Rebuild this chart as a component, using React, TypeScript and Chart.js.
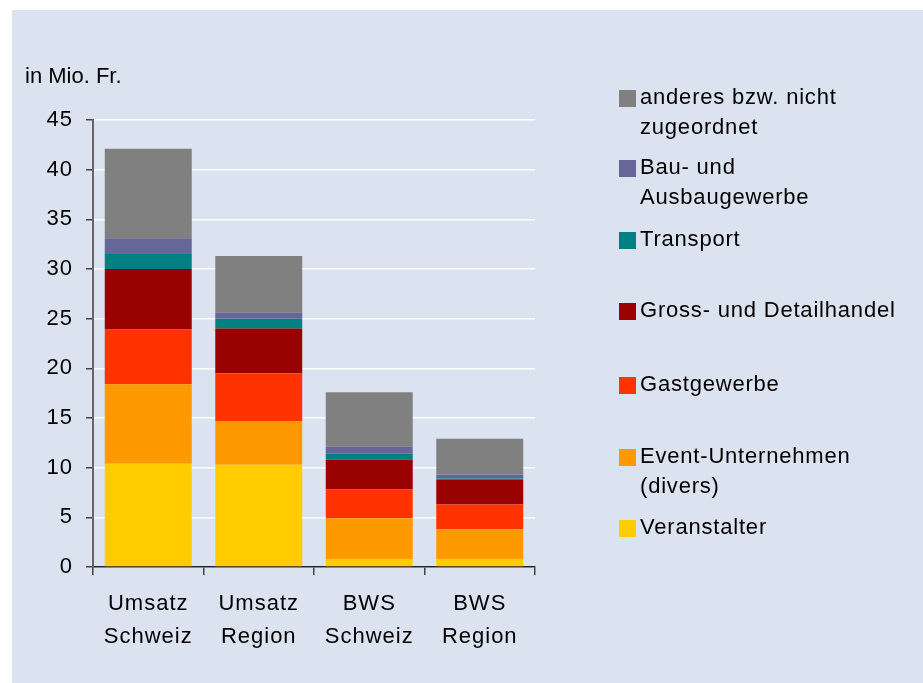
import React, { useEffect, useRef } from 'react';
import { Chart, registerables } from 'chart.js';

Chart.register(...registerables);

const categories = [
  ['Umsatz', 'Schweiz'],
  ['Umsatz', 'Region'],
  ['BWS', 'Schweiz'],
  ['BWS', 'Region'],
];

const seriesNames = [
  'Veranstalter',
  'Event-Unternehmen (divers)',
  'Gastgewerbe',
  'Gross- und Detailhandel',
  'Transport',
  'Bau- und Ausbaugewerbe',
  'anderes bzw. nicht zugeordnet',
];

const legendLines = [
  ['Veranstalter'],
  ['Event-Unternehmen', '(divers)'],
  ['Gastgewerbe'],
  ['Gross- und Detailhandel'],
  ['Transport'],
  ['Bau- und', 'Ausbaugewerbe'],
  ['anderes bzw. nicht', 'zugeordnet'],
];

const veranstalter = [10.4, 10.3, 0.8, 0.8];
const eventUnternehmen = [8.0, 4.4, 4.1, 3.0];
const gastgewerbe = [5.5, 4.8, 2.9, 2.5];
const grossDetailhandel = [6.1, 4.5, 3.0, 2.5];
const transport = [1.5, 1.0, 0.6, 0.1];
const bauAusbau = [1.6, 0.6, 0.7, 0.4];
const anderes = [9.0, 5.7, 5.5, 3.6];

const seriesValues = [veranstalter, eventUnternehmen, gastgewerbe, grossDetailhandel, transport, bauAusbau, anderes];
const seriesColors = ['#FFCC00', '#FF9900', '#FF3300', '#990000', '#008080', '#666699', '#808080'];

const yMin = 0;
const yMax = 45;
const yStep = 5;

const unitLabel = 'in Mio. Fr.';

// legend layout (top of each item, in the order of the series)
const legendTops = [512, 441, 369, 295, 224, 152, 82];

const FONT = '"Liberation Sans", Arial, sans-serif';

export default function App() {
  const canvasRef = useRef<HTMLCanvasElement | null>(null);

  useEffect(() => {
    const canvas = canvasRef.current;
    if (!canvas) return;
    const spacingPlugin = {
      id: 'spacing',
      beforeDraw(chart: any) {
        try { chart.ctx.letterSpacing = '1px'; } catch (e) {}
      },
    };
    const chart = new Chart(canvas, {
      type: 'bar',
      data: {
        labels: categories,
        datasets: seriesNames.map((name, i) => ({
          label: name,
          data: seriesValues[i],
          backgroundColor: seriesColors[i],
          borderWidth: 0,
          barPercentage: 1,
          categoryPercentage: 0.787,
        })),
      },
      options: {
        responsive: false,
        animation: false,
        layout: { padding: { left: 0, right: 388, top: 120, bottom: 0 } },
        plugins: { legend: { display: false }, tooltip: { enabled: false } },
        scales: {
          x: {
            stacked: true,
            grid: {
              offset: true,
              color: (ctx: any) => (ctx.index === categories.length ? '#ffffff' : 'rgba(0,0,0,0)'),
              tickColor: '#444',
              tickLength: 8,
              lineWidth: 1.5,
            },
            border: { color: '#222', width: 1.5 },
            ticks: {
              color: '#000',
              font: { family: FONT, size: 22, lineHeight: 1.5 },
              padding: 12,
              maxRotation: 0,
              autoSkip: false,
            },
            afterFit: (scale: any) => { scale.height = 116; },
          },
          y: {
            stacked: true,
            min: yMin,
            max: yMax,
            grid: {
              color: '#ffffff',
              tickColor: '#444',
              tickLength: 7,
              lineWidth: 1.5,
            },
            border: { color: '#666', width: 2 },
            ticks: {
              stepSize: yStep,
              color: '#000',
              font: { family: FONT, size: 22 },
              padding: 13,
            },
            afterFit: (scale: any) => { scale.width = 93; },
          },
        },
      },
      plugins: [spacingPlugin],
    });
    return () => chart.destroy();
  }, []);

  return (
    <div style={{ position: 'fixed', left: 0, top: 0, width: 923, height: 683, background: '#ffffff', overflow: 'hidden', fontFamily: FONT }}>
      <div style={{ position: 'absolute', left: 12, top: 10, width: 911, height: 673, background: '#dae3ef' }} />
      <canvas ref={canvasRef} width={923} height={683} style={{ position: 'absolute', left: 0, top: 0, width: 923, height: 683 }} />
      <div style={{ position: 'absolute', left: 25, top: 61, fontSize: 22, lineHeight: '30px', letterSpacing: '0px', color: '#000', whiteSpace: 'nowrap' }}>{unitLabel}</div>
      {seriesNames.map((name, i) => (
        <div key={name} style={{ position: 'absolute', left: 619, top: legendTops[i] }}>
          <div style={{ position: 'absolute', left: 0, top: 8, width: 17, height: 17, background: seriesColors[i] }} />
          <div style={{ position: 'absolute', left: 21, top: 0, fontSize: 22, lineHeight: '30px', letterSpacing: '0.8px', whiteSpace: 'nowrap', color: '#000' }}>
            {legendLines[i].map((ln, j) => (<div key={j}>{ln}</div>))}
          </div>
        </div>
      ))}
    </div>
  );
}
